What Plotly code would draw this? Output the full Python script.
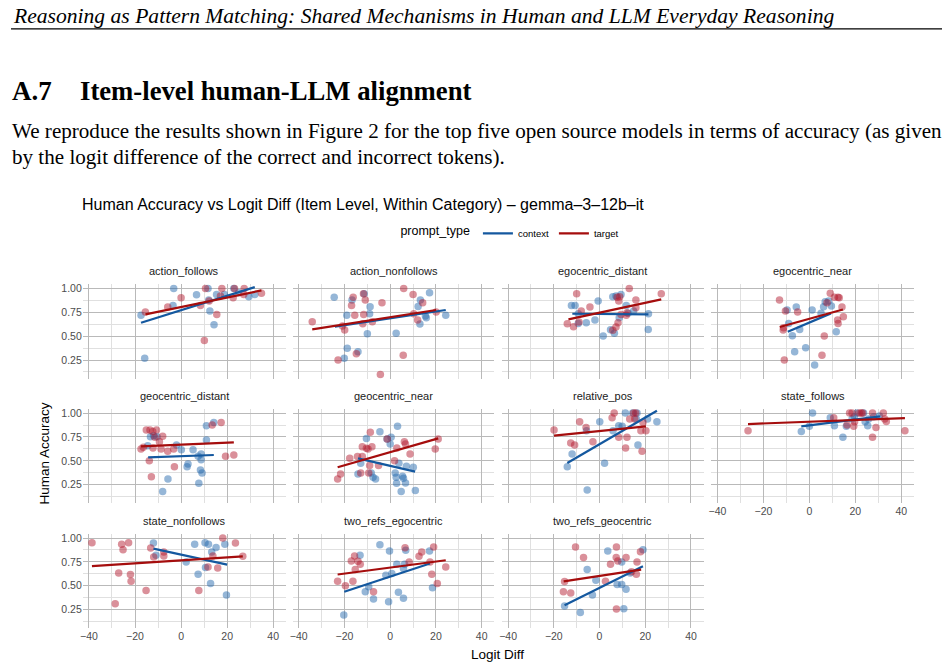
import plotly.graph_objects as go

W, H = 950, 667


def px_x(p):
    return p / W


def px_y(p):
    return 1 - p / H


categories = ["action_follows", "action_nonfollows", "egocentric_distant", "egocentric_near",
              "geocentric_distant", "geocentric_near", "relative_pos", "state_follows",
              "state_nonfollows", "two_refs_egocentric", "two_refs_geocentric"]

context_x = [
    [-17.4, -15.8, -3.2, -3.5, 6.7, 11.7, 12.5, 14.3, 15.4, 12.0, 18.8, 22.9, 29.4, 32.0, 25.0],
    [-24.5, -16.7, -19.0, -20.1, -18.8, -14.1, -11.4, -8.8, -9.0, -10.0, 2.6, 13.2, 12.2, 17.2, 15.4, 15.8, 13.0, 24.3],
    [-12.3, -10.7, -9.3, -9.3, -5.8, -2.0, -0.6, 1.6, 4.8, 6.5, 5.8, 7.2, 9.4, 8.6, 11.7, 12.5, 14.9, 21.3, 21.4],
    [-9.7, -9.0, -7.4, -6.4, -5.7, -4.2, -1.6, 1.2, 2.3, 5.1, 6.2, 6.9, 8.4, 9.6, 11.7],
    [-14.5, -13.3, -11.9, -10.4, -8.0, -5.7, -2.0, 0.1, 2.6, 3.0, 5.2, 7.7, 7.4, 8.4, 9.1, 8.7, 8.7, 11.0, 11.0, 14.2],
    [-14.1, -12.9, -10.4, -8.3, -7.5, -6.4, -4.5, 0.4, 0.0, -1.4, 3.2, 2.2, 2.6, 2.8, 3.8, 4.8, 5.4, 5.8, 6.7, 7.1, 10.1, 11.0],
    [-14.1, -12.0, -5.7, -5.4, 0.1, 2.2, 5.9, 8.4, 9.9, 11.3, 14.5, 16.4, 16.1, 16.8, 21.0, 25.1],
    [-3.5, 0.0, 1.4, 9.1, 10.9, 14.6, 16.1, 18.6, 19.6, 20.7, 23.6, 24.3, 25.4, 25.8, 28.0, 30.5],
    [-12.0, -10.9, 2.2, 5.9, 10.4, 11.9, 13.3, 15.2, 19.0, 7.4, 10.6, 12.8, 19.7],
    [-20.3, -13.2, -10.9, -9.4, -7.3, -4.5, -0.7, -0.3, -1.9, 0.7, 2.9, 3.6, 5.8, 6.3, 6.8, 5.8, 17.2, 18.5],
    [-15.3, -8.4, -5.4, -3.1, -1.6, 3.6, 7.7, 9.7, 9.7, 10.6, 11.6, 13.4, 19.0],
]
context_y = [
    [0.718, 0.268, 1.0, 0.822, 0.934, 1.0, 0.763, 0.62, 0.937, 0.88, 0.937, 1.0, 0.913, 0.937, 0.955],
    [0.909, 0.878, 0.718, 0.268, 0.373, 0.338, 0.944, 0.808, 0.735, 0.526, 0.53, 0.878, 0.812, 0.955, 0.711, 0.693, 0.627, 0.718],
    [0.822, 0.822, 0.735, 0.634, 0.641, 0.669, 0.868, 0.502, 0.568, 0.53, 0.913, 0.92, 0.937, 0.693, 0.822, 0.739, 0.763, 0.571, 0.735],
    [0.774, 0.634, 0.505, 0.338, 0.805, 0.571, 0.38, 0.774, 0.199, 0.739, 0.808, 0.861, 0.868, 0.815, 0.547],
    [0.659, 0.753, 0.763, 0.753, 0.178, 0.31, 0.666, 0.617, 0.439, 0.467, 0.617, 0.265, 0.547, 0.404, 0.373, 0.571, 0.512, 0.718, 0.868, 0.902],
    [0.362, 0.474, 0.735, 0.373, 0.328, 0.31, 0.805, 0.746, 0.676, 0.728, 0.861, 0.373, 0.328, 0.265, 0.474, 0.178, 0.338, 0.317, 0.268, 0.443, 0.432, 0.188],
    [0.439, 0.571, 0.815, 0.195, 0.909, 0.474, 0.815, 0.868, 0.861, 1.0, 1.0, 1.0, 0.937, 0.666, 0.937, 0.909],
    [0.808, 0.861, 1.0, 0.951, 0.868, 0.746, 0.861, 0.937, 0.962, 1.0, 1.0, 0.909, 0.868, 0.937, 0.962, 0.97],
    [0.948, 0.819, 0.749, 0.934, 0.951, 0.934, 0.854, 0.902, 0.934, 0.62, 0.69, 0.523, 0.401],
    [0.192, 0.819, 0.436, 0.488, 0.359, 0.93, 0.331, 0.864, 0.61, 0.627, 0.725, 0.429, 0.366, 0.725, 0.871, 0.679, 0.864, 0.477],
    [0.286, 0.216, 0.669, 0.401, 0.557, 0.864, 0.512, 0.512, 0.749, 0.258, 0.463, 0.634, 0.878],
]
target_x = [
    [-15.5, -5.8, 0.0, 8.4, 10.1, 10.6, 12.2, 15.5, 17.1, 17.7, 22.6, 23.2, 27.4, 27.2, 34.9],
    [-34.1, -20.9, -19.9, -22.8, -16.2, -16.9, -15.5, -14.8, -11.7, -10.9, -11.6, -12.0, -7.8, -3.6, -4.3, 5.9, 5.7, 10.0, 14.2, 12.0, 10.3, 20.1],
    [-14.1, -11.4, -10.0, -9.0, -8.0, -4.2, 5.8, 7.2, 8.1, 8.4, 8.8, 7.7, 9.4, 11.7, 13.0, 15.9, 15.9, 27.0, 12.0],
    [-13.0, -11.4, -11.2, -10.4, -10.9, -5.1, 5.5, 6.5, 7.7, 9.1, 10.9, 12.5, 13.0, 14.2, 12.3, 12.5, 14.8],
    [-17.4, -16.4, -15.1, -13.5, -12.3, -10.7, -11.4, -9.4, -8.0, -12.2, -8.7, -5.8, -13.8, -12.9, -2.9, -3.2, 13.5, 17.4, 19.3, 22.9],
    [-23.0, -21.7, -17.7, -14.3, -12.2, -12.9, -12.2, -10.4, -9.7, -9.4, -9.0, -8.7, -8.0, -5.1, -1.3, 1.9, 2.9, 6.2, 6.7, 8.7, 19.7, 21.0],
    [-19.9, -12.6, -10.9, -8.7, -5.9, -2.9, 5.5, 6.4, 8.4, 11.4, 12.0, 13.2, 14.9, 15.8, 15.4, 19.0, 18.1, 20.3, 18.6],
    [-26.7, 10.6, 16.4, 17.5, 18.6, 19.3, 19.7, 21.7, 22.6, 23.2, 27.5, 27.5, 29.0, 32.2, 32.8, 33.5, 41.6],
    [-38.7, -27.1, -28.6, -25.8, -25.2, -22.8, -22.0, -21.7, -15.2, -13.2, -11.9, -7.5, -7.5, 7.7, 11.7, 13.8, 15.9, 18.1, 23.6, 26.8],
    [-23.0, -19.6, -17.0, -16.3, -15.6, -15.3, -14.1, -13.1, -7.3, 6.5, 8.3, 12.6, 13.8, 17.4, 18.2, 19.0, 20.6, 24.3],
    [-15.8, -15.3, -12.6, -10.5, -7.0, 2.6, 4.8, 7.3, 7.4, 8.0, 7.4, 11.6, 14.0, 16.1, 16.4, 17.9],
]
target_y = [
    [0.753, 0.805, 0.902, 0.822, 0.456, 1.0, 0.868, 0.728, 0.92, 1.0, 0.902, 1.0, 1.0, 0.937, 0.951],
    [0.652, 0.606, 0.564, 0.251, 0.909, 0.822, 0.718, 0.317, 0.944, 0.878, 0.728, 0.631, 0.652, 0.85, 0.098, 1.0, 0.3, 0.937, 0.85, 0.669, 0.735, 0.753],
    [0.631, 0.6, 0.944, 0.648, 0.763, 0.805, 0.561, 0.596, 0.641, 0.868, 0.913, 0.909, 0.728, 0.718, 1.0, 0.878, 0.798, 0.944, 0.746],
    [0.878, 0.564, 0.589, 0.763, 0.251, 0.753, 0.3, 0.502, 0.85, 0.951, 0.909, 0.909, 0.902, 0.805, 0.669, 0.634, 0.704],
    [0.624, 0.641, 0.822, 0.822, 0.808, 0.822, 0.746, 0.7, 0.756, 0.634, 0.624, 0.6, 0.502, 0.334, 0.439, 0.624, 0.875, 0.902, 0.547, 0.561],
    [0.31, 0.362, 0.526, 0.544, 0.544, 0.373, 0.648, 0.631, 0.624, 0.373, 0.45, 0.798, 0.648, 0.45, 0.728, 0.502, 0.634, 0.7, 0.676, 0.571, 0.624, 0.728],
    [0.822, 0.686, 0.666, 0.909, 0.85, 0.7, 0.951, 1.0, 0.746, 0.634, 0.746, 0.937, 1.0, 1.0, 0.937, 0.902, 0.815, 0.815, 0.6],
    [0.815, 0.951, 0.875, 1.0, 1.0, 0.861, 0.909, 1.0, 1.0, 1.0, 1.0, 0.746, 0.85, 1.0, 0.937, 0.913, 0.815],
    [0.951, 0.634, 0.31, 0.934, 0.878, 0.951, 0.617, 0.547, 0.449, 0.895, 0.801, 0.812, 0.854, 0.449, 0.697, 0.812, 0.686, 1.0, 0.948, 0.808],
    [0.547, 0.498, 0.76, 0.547, 0.812, 0.669, 0.756, 0.725, 0.436, 0.899, 0.749, 0.808, 0.854, 0.749, 0.62, 0.906, 0.523, 0.697],
    [0.436, 0.544, 0.422, 0.906, 0.795, 0.547, 0.725, 0.795, 0.906, 0.76, 0.254, 0.795, 0.645, 0.62, 0.749, 0.857],
]

# linear fit lines (start/end x and fitted y)
context_fit_x = [[-17.4, 32.0], [-24.2, 24.3], [-11.9, 21.4], [-9.4, 9.4], [-14.3, 14.2], [-14.1, 10.9],
                 [-14.1, 25.1], [-3.5, 30.9], [-12.0, 20.0], [-20.1, 17.4], [-15.3, 19.0]]
context_fit_y = [[0.641, 1.014], [0.600, 0.774], [0.735, 0.728], [0.547, 0.739], [0.537, 0.561], [0.526, 0.387],
                 [0.477, 1.024], [0.861, 0.965], [0.889, 0.721], [0.436, 0.732], [0.293, 0.704]]
target_fit_x = [[-15.5, 34.9], [-34.1, 20.1], [-13.6, 27.0], [-12.9, 14.6], [-17.4, 22.9], [-23.0, 21.0],
                [-19.9, 20.3], [-26.7, 41.6], [-38.7, 26.8], [-23.0, 24.3], [-15.7, 18.2]]
target_fit_y = [[0.728, 0.979], [0.571, 0.774], [0.676, 0.885], [0.596, 0.780], [0.652, 0.693], [0.432, 0.735],
                [0.763, 0.861], [0.885, 0.948], [0.704, 0.808], [0.617, 0.767], [0.544, 0.669]]

x_ticks = [-40, -20, 0, 20, 40]
y_ticks = [0.25, 0.50, 0.75, 1.00]

BLUE_PT = "rgba(33,102,172,0.48)"
RED_PT = "rgba(178,24,43,0.48)"
BLUE_LN = "#14589f"
RED_LN = "#a50d0d"
MAJ = "#b9b9b9"
MIN = "#e0e0e0"
TXT = "#4d4d4d"
SANS = "Liberation Sans, Arial, sans-serif"
SERIF = "Liberation Serif, Times New Roman, serif"

col_px = [(80, 284), (290.5, 493), (500.5, 703), (710.5, 914)]
row_px = [(283, 378), (408, 503), (533.4, 628)]

fig = go.Figure()
layout = {}
annotations = []
for i, cat in enumerate(categories):
    r, c = divmod(i, 4)
    n = i + 1
    xa = "x" if n == 1 else f"x{n}"
    ya = "y" if n == 1 else f"y{n}"
    fig.add_trace(go.Scatter(x=context_x[i], y=context_y[i], mode="markers", xaxis=xa, yaxis=ya,
                             marker=dict(color=BLUE_PT, size=7.5, line=dict(width=0)),
                             showlegend=False, hoverinfo="skip"))
    fig.add_trace(go.Scatter(x=target_x[i], y=target_y[i], mode="markers", xaxis=xa, yaxis=ya,
                             marker=dict(color=RED_PT, size=7.5, line=dict(width=0)),
                             showlegend=False, hoverinfo="skip"))
    fig.add_trace(go.Scatter(x=context_fit_x[i], y=context_fit_y[i], mode="lines", xaxis=xa, yaxis=ya,
                             line=dict(color=BLUE_LN, width=2.2), name="context", legendgroup="context",
                             showlegend=(i == 0), hoverinfo="skip"))
    fig.add_trace(go.Scatter(x=target_fit_x[i], y=target_fit_y[i], mode="lines", xaxis=xa, yaxis=ya,
                             line=dict(color=RED_LN, width=2.2), name="target", legendgroup="target",
                             showlegend=(i == 0), hoverinfo="skip"))
    x0, x1 = col_px[c]
    top, bot = row_px[r]
    show_x = (r == 2) or (i == 7)
    show_y = (c == 0)
    layout["xaxis" if n == 1 else f"xaxis{n}"] = dict(
        domain=[px_x(x0), px_x(x1)], anchor=ya, range=[-42.7, 45.6],
        tickmode="array", tickvals=x_ticks, showticklabels=show_x,
        tickfont=dict(size=10.5, color=TXT, family=SANS), ticks="", showline=False, zeroline=False,
        showgrid=True, gridcolor=MAJ, gridwidth=1.1,
        minor=dict(tickmode="array", tickvals=[-30, -10, 10, 30], showgrid=True, gridcolor=MIN, gridwidth=1),
    )
    layout["yaxis" if n == 1 else f"yaxis{n}"] = dict(
        domain=[px_y(bot), px_y(top)], anchor=xa, range=[0.053, 1.045],
        tickmode="array", tickvals=y_ticks, ticktext=[f"{v:.2f}" for v in y_ticks],
        showticklabels=show_y,
        tickfont=dict(size=10.5, color=TXT, family=SANS), ticks="", showline=False, zeroline=False,
        showgrid=True, gridcolor=MAJ, gridwidth=1.1,
        minor=dict(tickmode="array", tickvals=[0.125, 0.375, 0.625, 0.875], showgrid=True, gridcolor=MIN, gridwidth=1),
    )
    annotations.append(dict(text=cat, x=px_x((x0 + x1) / 2), y=px_y(top - 13), xref="paper", yref="paper",
                            xanchor="center", yanchor="middle", showarrow=False,
                            font=dict(size=11, color="#1a1a1a", family=SANS)))

# page texts
annotations += [
    dict(text="<i>Reasoning as Pattern Matching: Shared Mechanisms in Human and LLM Everyday Reasoning</i>",
         x=px_x(8), y=px_y(14), xanchor="left", yanchor="middle", font=dict(size=21.6, color="black", family=SERIF)),
    dict(text="<b>A.7</b>", x=px_x(7), y=px_y(89), xanchor="left", yanchor="middle",
         font=dict(size=27, color="black", family=SERIF)),
    dict(text="<b>Item-level human-LLM alignment</b>", x=px_x(75), y=px_y(89), xanchor="left", yanchor="middle",
         font=dict(size=26.7, color="black", family=SERIF)),
    dict(text="We reproduce the results shown in Figure 2 for the top five open source models in terms of accuracy (as given",
         x=px_x(7), y=px_y(129), xanchor="left", yanchor="middle", font=dict(size=21.1, color="black", family=SERIF)),
    dict(text="by the logit difference of the correct and incorrect tokens).",
         x=px_x(7), y=px_y(155), xanchor="left", yanchor="middle", font=dict(size=21.1, color="black", family=SERIF)),
    dict(text="Human Accuracy vs Logit Diff (Item Level, Within Category) – gemma–3–12b–it",
         x=px_x(77), y=px_y(203), xanchor="left", yanchor="middle", font=dict(size=16, color="black", family=SANS)),
    dict(text="Human Accuracy", x=px_x(42), y=px_y(453), xanchor="center", yanchor="middle", textangle=-90,
         font=dict(size=13.5, color="black", family=SANS)),
    dict(text="Logit Diff", x=px_x(496), y=px_y(654), xanchor="center", yanchor="middle",
         font=dict(size=13.5, color="black", family=SANS)),
]
for a in annotations:
    a.setdefault("xref", "paper")
    a.setdefault("yref", "paper")
    a.setdefault("showarrow", False)

fig.update_layout(
    width=W, height=H, margin=dict(l=0, r=0, t=0, b=0),
    paper_bgcolor="white", plot_bgcolor="white",
    annotations=annotations,
    shapes=[dict(type="line", xref="paper", yref="paper", x0=px_x(8), x1=px_x(942), y0=px_y(27), y1=px_y(27),
                 line=dict(color="black", width=1.2))],
    legend=dict(orientation="h", x=px_x(510), xanchor="center", y=px_y(232), yanchor="middle",
                title=dict(text="prompt_type", side="left", font=dict(size=12.5, color="black", family=SANS)),
                font=dict(size=9.5, color="black", family=SANS), itemwidth=30, bgcolor="rgba(0,0,0,0)",
                tracegroupgap=0),
    **layout,
)

fig.write_html("out.html")
